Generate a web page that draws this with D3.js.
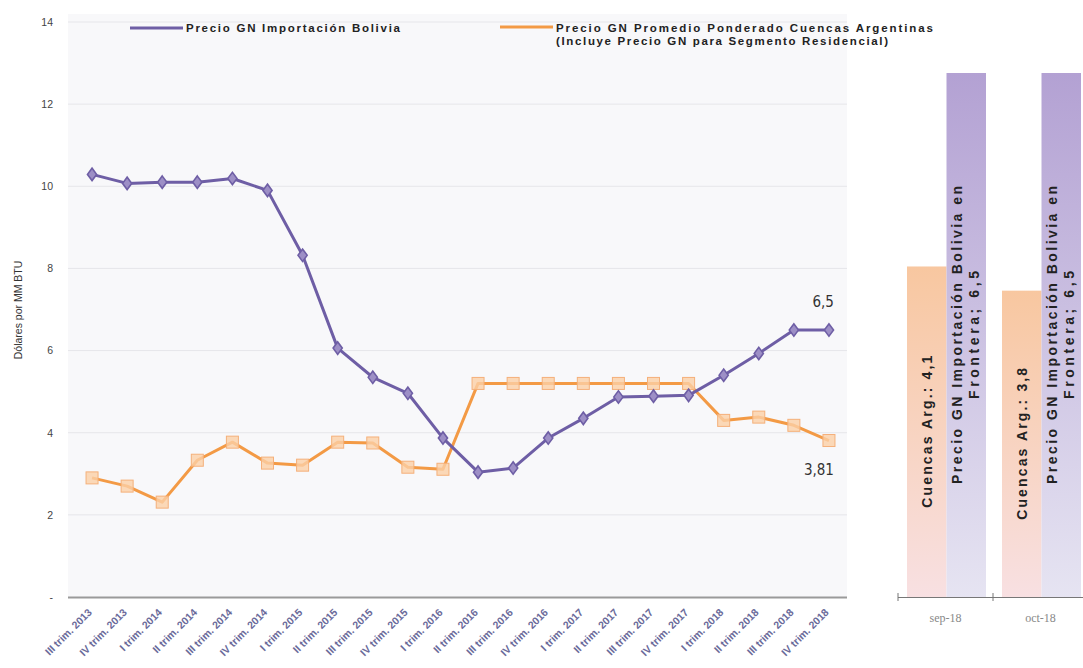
<!DOCTYPE html>
<html><head><meta charset="utf-8">
<script src="https://cdn.jsdelivr.net/npm/d3@7"></script>
<style>body{margin:0;background:#fff}svg{display:block}</style>
</head><body><svg id="c" width="1083" height="668"></svg>
<script>
const categories = ["III trim. 2013","IV trim. 2013","I trim. 2014","II trim. 2014","III trim. 2014","IV trim. 2014","I trim. 2015","II trim. 2015","III trim. 2015","IV trim. 2015","I trim. 2016","II trim. 2016","III trim. 2016","IV trim. 2016","I trim. 2017","II trim. 2017","III trim. 2017","IV trim. 2017","I trim. 2018","II trim. 2018","III trim. 2018","IV trim. 2018"];
const bolivia = [10.29,10.07,10.1,10.1,10.19,9.9,8.32,6.06,5.35,4.96,3.87,3.04,3.14,3.87,4.35,4.87,4.89,4.91,5.4,5.93,6.5,6.5];
const argentina = [2.9,2.7,2.31,3.33,3.77,3.26,3.21,3.77,3.75,3.16,3.11,5.2,5.2,5.2,5.2,5.2,5.2,5.2,4.3,4.38,4.18,3.81];
const yTicks = [0,2,4,6,8,10,12,14];
const months = ["sep-18","oct-18"];
const monthArg = [4.1,3.8];
const monthBol = [6.5,6.5];
const legendBol = "Precio GN Importación Bolivia";
const legendArg = ["Precio GN Promedio Ponderado Cuencas Argentinas","(Incluye Precio GN para Segmento Residencial)"];
const yTitle = "Dólares por MM BTU";

const svg = d3.select("#c");
const PURPLE = "#6e5ea5", ORANGE = "#f39a45";
const SANS = "'Liberation Sans', Arial, sans-serif";

const x = d3.scalePoint().domain(categories).range([74.5, 846.5]).padding(0.5);
const y = d3.scaleLinear().domain([0,14]).range([597, 22]);

// plot background
svg.append("rect").attr("x",68).attr("y",14).attr("width",779).attr("height",583).attr("fill","#f8f8fa");
// gridlines
svg.append("g").selectAll("line").data(yTicks.filter(d=>d>0)).join("line")
  .attr("x1",68).attr("x2",847).attr("y1",d=>y(d)).attr("y2",d=>y(d))
  .attr("stroke","#e6e6ea").attr("stroke-width",1);

// y axis labels
const ya = svg.append("g").attr("transform","translate(55,0)")
  .call(d3.axisLeft(y).tickValues(yTicks).tickSize(0).tickPadding(2).tickFormat(d=>d===0?"-":d));
ya.select(".domain").remove();
ya.selectAll("text").attr("font-family",SANS).attr("font-size",10.5).attr("fill","#444");

// y title
svg.append("text").attr("transform","translate(22,310) rotate(-90)").attr("text-anchor","middle")
  .attr("font-family",SANS).attr("font-size",10.5).attr("fill","#333").text(yTitle);

// x axis
const xa = svg.append("g").attr("transform","translate(0,597)")
  .call(d3.axisBottom(x).tickSize(0).tickPadding(0));
xa.select(".domain").attr("d","M68,0.5H847").attr("stroke","#9a9a9a").attr("stroke-width",2);
xa.selectAll("text").attr("font-family",SANS).attr("font-size",10.5).attr("font-weight","bold").attr("fill","#6a6a9a")
  .attr("text-anchor","end").attr("dy",0).attr("y",0)
  .attr("transform","translate(0,16) rotate(-45)");

// lines
const line = d3.line().x((d,i)=>x(categories[i])).y(d=>y(d));
svg.append("path").datum(argentina).attr("d",line).attr("fill","none").attr("stroke",ORANGE).attr("stroke-width",3).attr("stroke-linejoin","round");
svg.append("path").datum(bolivia).attr("d",line).attr("fill","none").attr("stroke",PURPLE).attr("stroke-width",3).attr("stroke-linejoin","round");

// markers
svg.append("g").selectAll("rect").data(argentina).join("rect")
  .attr("x",(d,i)=>x(categories[i])-6).attr("y",d=>y(d)-6).attr("width",12).attr("height",12)
  .attr("fill","#fbcfa6").attr("fill-opacity",0.8).attr("stroke","#f5b07a").attr("stroke-width",1);
svg.append("g").selectAll("path").data(bolivia).join("path")
  .attr("transform",(d,i)=>`translate(${x(categories[i])},${y(d)}) scale(1.15,0.9)`)
  .attr("d",d3.symbol(d3.symbolDiamond,55))
  .attr("fill","#9d8fc6").attr("stroke",PURPLE).attr("stroke-width",1.5);

// end labels
const COND = "'Liberation Sans Narrow','DejaVu Sans Condensed', sans-serif";
svg.append("text").attr("x",x(categories[21])+5).attr("y",y(bolivia[21])-23).attr("text-anchor","end")
  .attr("font-family",COND).attr("font-size",15).attr("fill","#333").text(String(bolivia[21]).replace(".",","));
svg.append("text").attr("x",x(categories[21])+5).attr("y",y(argentina[21])+34).attr("text-anchor","end")
  .attr("font-family",COND).attr("font-size",15).attr("fill","#333").text(String(argentina[21]).replace(".",","));

// legend
svg.append("line").attr("x1",130).attr("x2",183).attr("y1",28).attr("y2",28).attr("stroke",PURPLE).attr("stroke-width",3);
svg.append("text").attr("x",186).attr("y",32).attr("font-family",SANS).attr("font-size",11.5).attr("font-weight","bold")
  .attr("fill","#222").attr("textLength",214).attr("lengthAdjust","spacing").text(legendBol);
svg.append("line").attr("x1",500).attr("x2",553).attr("y1",27).attr("y2",27).attr("stroke",ORANGE).attr("stroke-width",3);
svg.append("text").attr("x",556).attr("y",32).attr("font-family",SANS).attr("font-size",11.5).attr("font-weight","bold")
  .attr("fill","#222").attr("textLength",377).attr("lengthAdjust","spacing").text(legendArg[0]);
svg.append("text").attr("x",556).attr("y",45).attr("font-family",SANS).attr("font-size",11.5).attr("font-weight","bold")
  .attr("fill","#222").attr("textLength",332).attr("lengthAdjust","spacing").text(legendArg[1]);

// right panel
const defs = svg.append("defs");
const g1 = defs.append("linearGradient").attr("id","gArg").attr("x1",0).attr("y1",0).attr("x2",0).attr("y2",1);
g1.append("stop").attr("offset","0%").attr("stop-color","#f8c7a0");
g1.append("stop").attr("offset","100%").attr("stop-color","#f8e0e2");
const g2 = defs.append("linearGradient").attr("id","gBol").attr("x1",0).attr("y1",0).attr("x2",0).attr("y2",1);
g2.append("stop").attr("offset","0%").attr("stop-color","#b3a1d3");
g2.append("stop").attr("offset","100%").attr("stop-color","#e6e4f2");

const xm = d3.scaleBand().domain(months).range([898, 1088]);
const xs = d3.scaleBand().domain(["arg","bol"]).range([9, 88]);
const y2 = d3.scaleLinear().domain([0,6.5]).range([597,73]);

const mg = svg.append("g").selectAll("g").data(months).join("g").attr("transform",d=>`translate(${xm(d)},0)`);
mg.append("rect").attr("x",xs("arg")).attr("width",xs.bandwidth()).attr("y",(d,i)=>y2(monthArg[i])).attr("height",(d,i)=>597-y2(monthArg[i])).attr("fill","url(#gArg)");
mg.append("rect").attr("x",xs("bol")).attr("width",xs.bandwidth()).attr("y",(d,i)=>y2(monthBol[i])).attr("height",(d,i)=>597-y2(monthBol[i])).attr("fill","url(#gBol)");

mg.append("text").attr("transform",(d,i)=>`translate(${xs("arg")+xs.bandwidth()/2+5},${(y2(monthArg[i])+597)/2}) rotate(-90)`)
  .attr("text-anchor","middle").attr("font-family",SANS).attr("font-size",14).attr("font-weight","bold").attr("fill","#222")
  .attr("textLength",152).attr("lengthAdjust","spacing")
  .text((d,i)=>"Cuencas Arg.: "+String(monthArg[i]).replace(".",","));
mg.append("text").attr("transform",(d,i)=>`translate(${xs("bol")+xs.bandwidth()/2-4},${(y2(monthBol[i])+597)/2}) rotate(-90)`)
  .attr("text-anchor","middle").attr("font-family",SANS).attr("font-size",14).attr("font-weight","bold").attr("fill","#222")
  .attr("textLength",298).attr("lengthAdjust","spacing")
  .text("Precio GN Importación Bolivia en");
mg.append("text").attr("transform",(d,i)=>`translate(${xs("bol")+xs.bandwidth()/2+13},${(y2(monthBol[i])+597)/2}) rotate(-90)`)
  .attr("text-anchor","middle").attr("font-family",SANS).attr("font-size",14).attr("font-weight","bold").attr("fill","#222")
  .attr("textLength",128).attr("lengthAdjust","spacing")
  .text((d,i)=>"Frontera; "+String(monthBol[i]).replace(".",","));

const xma = svg.append("g").attr("transform","translate(0,597)")
  .call(d3.axisBottom(xm).tickSize(0).tickPadding(16));
xma.select(".domain").attr("stroke","#777").attr("stroke-width",1.2).attr("d","M898,0.5H1088");
xma.selectAll("text").attr("font-family","'Liberation Serif', serif").attr("font-size",12).attr("fill","#888");
svg.append("g").selectAll("line").data(months).join("line")
  .attr("x1",d=>xm(d)).attr("x2",d=>xm(d)).attr("y1",593).attr("y2",601).attr("stroke","#777");
</script></body></html>
